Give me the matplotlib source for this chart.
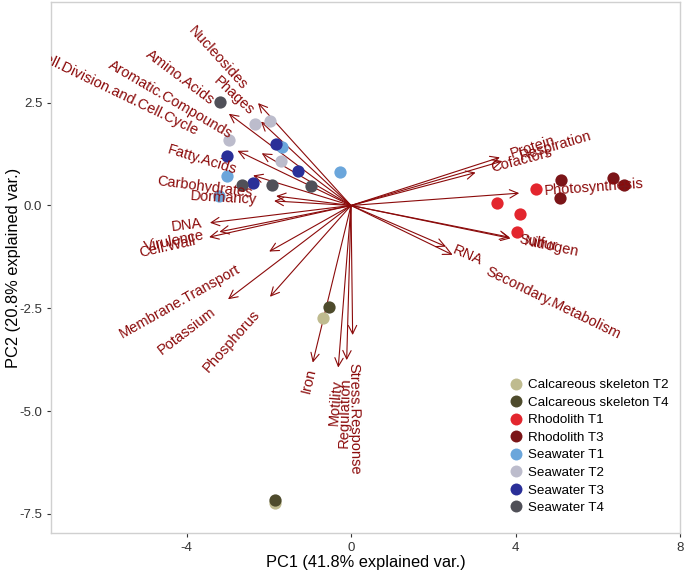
import math
import matplotlib
matplotlib.use('Agg')
import matplotlib.pyplot as plt
from matplotlib.lines import Line2D

plt.rcParams['font.family'] = ['Liberation Sans', 'DejaVu Sans']
plt.rcParams['axes.unicode_minus'] = False

# groups and their colours (legend order)
groups = ['Calcareous skeleton T2', 'Calcareous skeleton T4', 'Rhodolith T1', 'Rhodolith T3',
          'Seawater T1', 'Seawater T2', 'Seawater T3', 'Seawater T4']
group_colors = ['#BFBB8F', '#4E4B2C', '#E3262E', '#7B1518',
                '#6BA6DB', '#BCBCCC', '#2A2F98', '#505058']

# sample scores (PC1, PC2)
sample_group = ['Calcareous skeleton T2', 'Calcareous skeleton T2',
                'Calcareous skeleton T4', 'Calcareous skeleton T4',
                'Rhodolith T1', 'Rhodolith T1', 'Rhodolith T1', 'Rhodolith T1',
                'Rhodolith T3', 'Rhodolith T3', 'Rhodolith T3', 'Rhodolith T3',
                'Seawater T1', 'Seawater T1', 'Seawater T1', 'Seawater T1',
                'Seawater T2', 'Seawater T2', 'Seawater T2', 'Seawater T2',
                'Seawater T3', 'Seawater T3', 'Seawater T3', 'Seawater T3',
                'Seawater T4', 'Seawater T4', 'Seawater T4', 'Seawater T4']
sample_pc1 = [-0.67, -1.86, -0.53, -1.86,
              4.50, 3.55, 4.10, 4.04,
              5.11, 5.07, 6.37, 6.64,
              -1.67, -0.275, -3.02, -3.20,
              -2.34, -1.98, -2.96, -1.70,
              -1.82, -3.01, -1.30, -2.39,
              -3.18, -2.64, -1.93, -0.97]
sample_pc2 = [-2.73, -7.23, -2.47, -7.17,
              0.40, 0.06, -0.21, -0.64,
              0.62, 0.18, 0.66, 0.51,
              1.43, 0.81, 0.71, 0.22,
              1.99, 2.05, 1.59, 1.08,
              1.50, 1.21, 0.84, 0.55,
              2.51, 0.49, 0.51, 0.48]

# variable loadings (arrow tips)
var_names = ['Nucleosides', 'Phages', 'Amino.Acids', 'Aromatic.Compounds',
             'Cell.Division.and.Cell.Cycle', 'Fatty.Acids', 'Carbohydrates', 'Dormancy',
             'DNA', 'Virulence', 'Cell.Wall', 'Membrane.Transport', 'Potassium',
             'Phosphorus', 'Iron', 'Motility', 'Regulation', 'Stress.Response',
             'RNA', 'Secondary.Metabolism', 'Sulfur', 'Nitrogen', 'Photosynthesis',
             'Cofactors', 'Protein', 'Respiration']
var_pc1 = [-2.26, -2.19, -2.97, -2.17,
           -2.76, -2.38, -1.82, -1.87,
           -3.43, -3.20, -3.45, -1.99, -2.99,
           -1.97, -0.93, -0.31, -0.105, 0.04,
           2.31, 2.47, 3.85, 3.88, 4.09,
           3.03, 3.62, 3.68]
var_pc2 = [2.49, 2.04, 2.23, 1.27,
           1.33, 0.73, 0.23, 0.11,
           -0.42, -0.64, -0.77, -1.12, -2.28,
           -2.22, -3.82, -3.94, -3.76, -3.15,
           -1.00, -1.20, -0.77, -0.80, 0.30,
           0.80, 1.17, 1.08]

x_ticks = [-4, 0, 4, 8]
x_ticklabels = ['-4', '0', '4', '8']
y_ticks = [2.5, 0.0, -2.5, -5.0, -7.5]
y_ticklabels = ['2.5', '0.0', '-2.5', '-5.0', '-7.5']

arrow_color = '#8B0A0A'
LABEL_FS = 10.5

fig = plt.figure(figsize=(6.85, 5.71), dpi=100)
ax = fig.add_axes([51 / 685, 38 / 571, 629 / 685, 531 / 571])

# arrows
for vx, vy in zip(var_pc1, var_pc2):
    ax.annotate('', xy=(vx, vy), xytext=(0, 0),
                arrowprops=dict(arrowstyle='->,head_length=0.6,head_width=0.3',
                                color=arrow_color, lw=0.8, shrinkA=0, shrinkB=0,
                                mutation_scale=10),
                zorder=1)

# points
color_of = dict(zip(groups, group_colors))
for g in groups:
    xs = [x for x, s in zip(sample_pc1, sample_group) if s == g]
    ys = [y for y, s in zip(sample_pc2, sample_group) if s == g]
    ax.scatter(xs, ys, s=78, color=color_of[g], linewidths=0, zorder=2)

ax.set_xlim(-7.295, 8.0)
ax.set_ylim(-7.964, 4.948)

# variable labels, placed like ggbiplot (hjust = (1 - 1.5*sign(x)) / 2)
fig.canvas.draw()
renderer = fig.canvas.get_renderer()
for name, vx, vy in zip(var_names, var_pc1, var_pc2):
    ang = math.degrees(math.atan(vy / vx))
    norm = math.hypot(vx, vy)
    ux, uy = vx / norm, vy / norm
    tmp = ax.text(0, 0, name, fontsize=LABEL_FS)
    w = tmp.get_window_extent(renderer).width * 72 / fig.dpi
    tmp.remove()
    off = 0.25 * w
    ax.annotate(name, xy=(vx, vy), xytext=(ux * off, uy * off), textcoords='offset points',
                rotation=ang, rotation_mode='anchor',
                ha='right' if vx < 0 else 'left', va='center',
                fontsize=LABEL_FS, color=arrow_color, clip_on=True, zorder=3)

ax.set_xticks(x_ticks)
ax.set_xticklabels(x_ticklabels)
ax.set_yticks(y_ticks)
ax.set_yticklabels(y_ticklabels)
ax.tick_params(length=2.75, width=0.8, color='#333333', labelcolor='#333333',
               labelsize=9.5, pad=3.5)
for sp in ax.spines.values():
    sp.set_color('#D0D0D0')
    sp.set_linewidth(1.0)

ax.set_xlabel('PC1 (41.8% explained var.)', fontsize=11.8, labelpad=1)
ax.set_ylabel('PC2 (20.8% explained var.)', fontsize=11.8, labelpad=-1)

handles = [Line2D([], [], marker='o', linestyle='none', markersize=8.6,
                  markerfacecolor=c, markeredgewidth=0) for c in group_colors]
ax.legend(handles, groups, loc='upper left', bbox_to_anchor=(509.5 / 685, (571 - 379) / 571),
          bbox_transform=fig.transFigure, frameon=False, fontsize=9.6,
          handlelength=1.0, handletextpad=0.35, labelspacing=0.39,
          borderpad=0, borderaxespad=0)

fig.savefig('out.png', dpi=100)
